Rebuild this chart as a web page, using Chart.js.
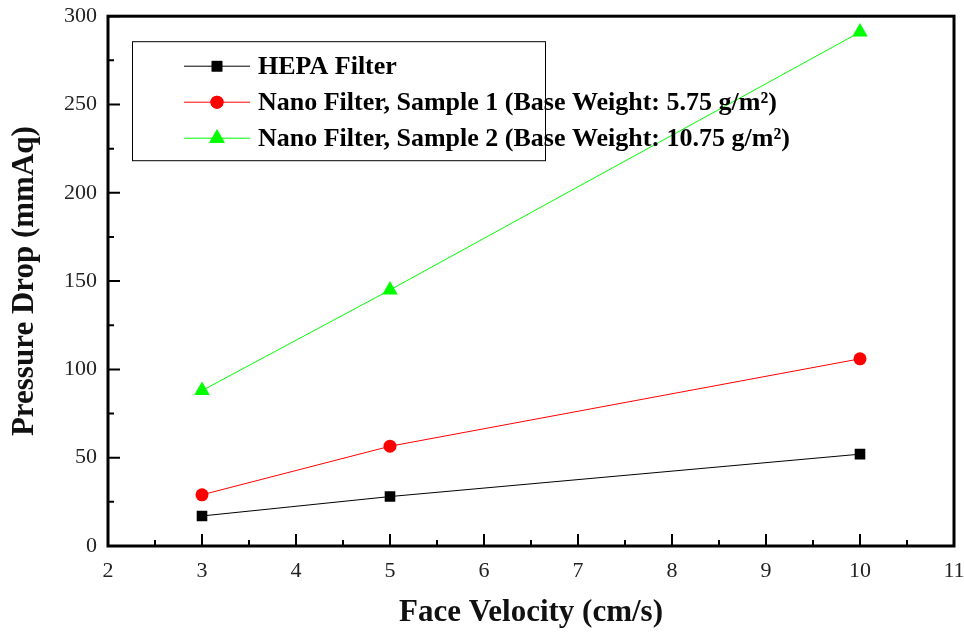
<!DOCTYPE html>
<html>
<head>
<meta charset="utf-8">
<script src="https://cdn.jsdelivr.net/npm/chart.js@4.4.1/dist/chart.umd.min.js"></script>
<style>
  html, body { margin: 0; padding: 0; background: #fff; }
  #box { width: 964px; height: 632px; }
</style>
</head>
<body>
<div id="box"><canvas id="myChart"></canvas></div>
<script>
// face velocity (cm/s)
const velocities = [3, 5, 10];
// pressure drop (mmAq)
const hepa = [17, 28, 52];
const nano1 = [29, 56.5, 106];
const nano2 = [88, 145, 291];

const seriesLabels = [
  "HEPA Filter",
  "Nano Filter, Sample 1 (Base Weight: 5.75 g/m²)",
  "Nano Filter, Sample 2 (Base Weight: 10.75 g/m²)"
];

const xMin = 2, xMax = 11, xStep = 1;
const yMin = 0, yMax = 300, yStep = 50;

const serif = "'Liberation Serif', 'Times New Roman', serif";

function toPoints(ys) {
  return velocities.map((v, i) => ({ x: v, y: ys[i] }));
}

// box around the plot + inward tick marks (major and minor)
const frameTicks = {
  id: "frameTicks",
  afterDraw(chart) {
    const ctx = chart.ctx;
    const a = chart.chartArea;
    const sx = chart.scales.x, sy = chart.scales.y;
    ctx.save();
    ctx.strokeStyle = "#000";
    ctx.lineWidth = 3;
    ctx.strokeRect(a.left, a.top, a.right - a.left, a.bottom - a.top);
    ctx.lineWidth = 2;
    ctx.beginPath();
    for (let v = xMin; v <= xMax + 1e-9; v += xStep / 2) {
      const px = sx.getPixelForValue(v);
      const major = Math.abs(v - Math.round(v)) < 1e-9;
      ctx.moveTo(px, a.bottom);
      ctx.lineTo(px, a.bottom - (major ? 12 : 6));
    }
    for (let v = yMin; v <= yMax + 1e-9; v += yStep / 2) {
      const py = sy.getPixelForValue(v);
      const major = v % yStep === 0;
      ctx.moveTo(a.left, py);
      ctx.lineTo(a.left + (major ? 12 : 6), py);
    }
    ctx.stroke();
    ctx.restore();
  }
};

// legend box drawn inside the plot area
const innerLegend = {
  id: "innerLegend",
  afterDraw(chart) {
    const ctx = chart.ctx;
    const a = chart.chartArea;
    const left = a.left + 24, top = a.top + 25, w = 413, h = 119;
    ctx.save();
    ctx.fillStyle = "#fff";
    ctx.fillRect(left, top, w, h);
    ctx.strokeStyle = "#000";
    ctx.lineWidth = 1;
    ctx.strokeRect(left + 0.5, top + 0.5, w, h);
    chart.data.datasets.forEach((ds, i) => {
      const y = top + 25 + i * 36;
      ctx.strokeStyle = ds.borderColor;
      ctx.lineWidth = 1;
      ctx.beginPath();
      ctx.moveTo(left + 52, y);
      ctx.lineTo(left + 118, y);
      ctx.stroke();
      ctx.fillStyle = ds.pointBackgroundColor;
      Chart.helpers.drawPoint(ctx, {
        pointStyle: ds.pointStyle,
        radius: ds.pointRadius,
        rotation: 0,
        borderWidth: 0
      }, left + 85, y);
      ctx.fill();
      ctx.fillStyle = "#000";
      ctx.font = "bold 26px " + serif;
      ctx.textBaseline = "middle";
      ctx.fillText(ds.label, left + 126, y + 1);
    });
    ctx.restore();
  }
};

const ctx = document.getElementById("myChart").getContext("2d");
new Chart(ctx, {
  type: "line",
  data: {
    datasets: [
      {
        label: seriesLabels[0],
        data: toPoints(hepa),
        borderColor: "#000000",
        pointBackgroundColor: "#000000",
        pointBorderWidth: 0,
        pointStyle: "rect",
        pointRadius: 7.5,
        borderWidth: 1
      },
      {
        label: seriesLabels[1],
        data: toPoints(nano1),
        borderColor: "#ff0000",
        pointBackgroundColor: "#ff0000",
        pointBorderWidth: 0,
        pointStyle: "circle",
        pointRadius: 6.5,
        borderWidth: 1
      },
      {
        label: seriesLabels[2],
        data: toPoints(nano2),
        borderColor: "#00ff00",
        pointBackgroundColor: "#00ff00",
        pointBorderWidth: 0,
        pointStyle: "triangle",
        pointRadius: 9,
        borderWidth: 1
      }
    ]
  },
  options: {
    responsive: true,
    maintainAspectRatio: false,
    animation: false,
    layout: { padding: { left: 0, right: 0, top: 10, bottom: 0 } },
    plugins: {
      legend: { display: false },
      tooltip: { enabled: false }
    },
    scales: {
      x: {
        type: "linear",
        min: xMin,
        max: xMax,
        grid: { display: false },
        border: { display: false },
        ticks: {
          stepSize: xStep,
          padding: 4,
          color: "#222",
          font: { family: serif, size: 22 }
        },
        title: {
          display: true,
          text: "Face Velocity (cm/s)",
          color: "#111",
          font: { family: serif, size: 31, weight: "bold" },
          padding: { top: 0, bottom: 0 }
        },
        afterFit(scale) {
          scale.height = 86;
          scale.paddingLeft = 0;
          scale.paddingRight = 10;
        }
      },
      y: {
        min: yMin,
        max: yMax,
        grid: { display: false },
        border: { display: false },
        ticks: {
          stepSize: yStep,
          padding: 3,
          color: "#222",
          font: { family: serif, size: 22 }
        },
        title: {
          display: true,
          text: "Pressure Drop (mmAq)",
          color: "#111",
          font: { family: serif, size: 31, weight: "bold" },
          padding: { top: 6, bottom: 0 }
        },
        afterFit(scale) { scale.width = 108; }
      }
    }
  },
  plugins: [frameTicks, innerLegend]
});
</script>
</body>
</html>
